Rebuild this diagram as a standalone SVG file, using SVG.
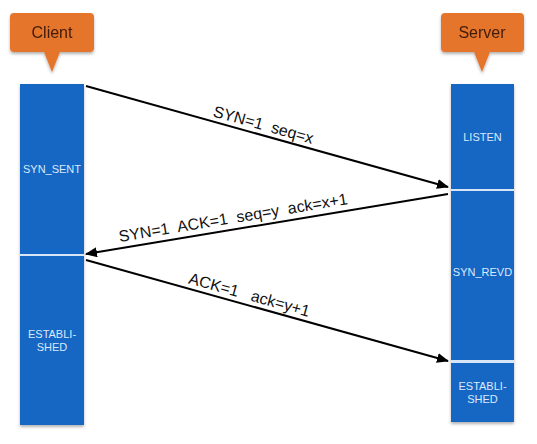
<svg xmlns="http://www.w3.org/2000/svg" width="537" height="444" viewBox="0 0 537 444">
<defs>
<style>
.col{fill:#1866c4;}
.sep{fill:#d6e6f6;}
.st{font-family:"Liberation Sans",Arial,sans-serif;font-size:11px;fill:#dbe9fb;text-anchor:middle;}
.call{fill:#e5742b;}
.ct{font-family:"Liberation Sans",Arial,sans-serif;font-size:16px;fill:#3f1c0c;text-anchor:middle;}
.lbl{font-family:"Liberation Sans",Arial,sans-serif;font-size:16px;fill:#111;text-anchor:middle;white-space:pre;}
.ln{stroke:#000;stroke-width:2;fill:none;}
</style>
<marker id="ah" viewBox="0 0 12 10" refX="11" refY="5" markerWidth="12" markerHeight="10" markerUnits="userSpaceOnUse" orient="auto">
<path d="M0,0 L12,5 L0,10 Z" fill="#000"/>
</marker>
<filter id="sh" x="-20%" y="-20%" width="140%" height="140%">
<feDropShadow dx="0" dy="2" stdDeviation="1.5" flood-color="#000" flood-opacity="0.3"/>
</filter>
</defs>
<rect width="537" height="444" fill="#fff"/>
<g id="client-label" filter="url(#sh)">
<path class="call" d="M14,13 H90 Q94,13 94,17 V48 Q94,52 90,52 H60 L52,72 L44,52 H14 Q10,52 10,48 V17 Q10,13 14,13 Z"/>
<text class="ct" x="52" y="38">Client</text>
</g>
<g id="server-label" filter="url(#sh)">
<path class="call" d="M445,13 H520 Q524,13 524,17 V48 Q524,52 520,52 H490 L482,72 L474,52 H445 Q441,52 441,48 V17 Q441,13 445,13 Z"/>
<text class="ct" x="482" y="38">Server</text>
</g>
<g id="client-column" filter="url(#sh)">
<rect class="col" x="20" y="84" width="64" height="170"/>
<rect class="sep" x="20" y="254" width="64" height="2"/>
<rect class="col" x="20" y="256" width="64" height="169"/>
</g>
<g id="client-syn-sent">
<text class="st" x="52" y="173">SYN_SENT</text>
</g>
<g id="client-established">
<text class="st" x="52" y="338">ESTABLI-</text>
<text class="st" x="52" y="351">SHED</text>
</g>
<g id="server-column" filter="url(#sh)">
<rect class="col" x="451" y="84" width="63" height="105"/>
<rect class="sep" x="451" y="189" width="63" height="2"/>
<rect class="col" x="451" y="191" width="63" height="169"/>
<rect class="sep" x="451" y="360" width="63" height="3"/>
<rect class="col" x="451" y="363" width="63" height="59"/>
</g>
<g id="server-listen">
<text class="st" x="482.5" y="141">LISTEN</text>
</g>
<g id="server-syn-revd">
<text class="st" x="482.5" y="276">SYN_REVD</text>
</g>
<g id="server-established">
<text class="st" x="482.5" y="390">ESTABLI-</text>
<text class="st" x="482.5" y="403">SHED</text>
</g>
<g id="connectors">
<line class="ln" x1="86" y1="86" x2="448" y2="187" marker-end="url(#ah)"/>
<line class="ln" x1="448" y1="194" x2="86" y2="254" marker-end="url(#ah)"/>
<line class="ln" x1="86" y1="260" x2="448" y2="361" marker-end="url(#ah)"/>
<text class="lbl" xml:space="preserve" x="262" y="130" transform="rotate(15.6 262 130)">SYN=1  seq=x</text>
<text class="lbl" xml:space="preserve" x="234" y="223" transform="rotate(-9.4 234 223)">SYN=1  ACK=1  seq=y  ack=x+1</text>
<text class="lbl" xml:space="preserve" x="248" y="300" transform="rotate(15.6 248 300)">ACK=1   ack=y+1</text>
</g>
</svg>
